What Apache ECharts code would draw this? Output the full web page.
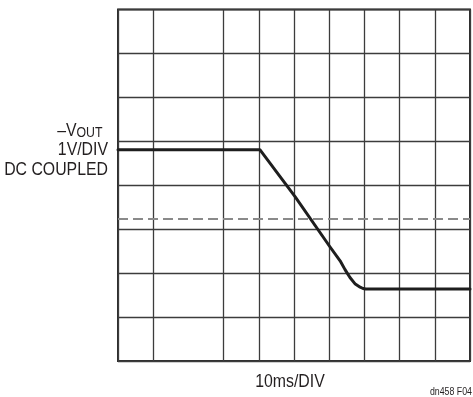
<!DOCTYPE html>
<html>
<head>
<meta charset="utf-8">
<script src="https://cdn.jsdelivr.net/npm/echarts@6/dist/echarts.min.js"></script>
<style>
  html, body { margin: 0; padding: 0; background: #fff; }
  #chart { width: 473px; height: 397px; }
</style>
</head>
<body>
<div id="chart"></div>
<script>
// Scope trace: time in divisions (10ms/DIV), voltage in divisions (1V/DIV)
const traceTime = [0, 4.03, 5.03, 6.02, 6.31, 6.45, 6.59, 6.73, 6.88, 6.96, 7.04, 10];
const traceVolt = [4.81, 4.81, 3.74, 2.60, 2.28, 2.08, 1.90, 1.76, 1.68, 1.65, 1.64, 1.64];

// Dashed reference level (divisions)
const refLevel = 3.23;

// Graticule: 10 horizontal by 8 vertical divisions
const xDivisions = 10;
const yDivisions = 8;
// Vertical graticule lines that are drawn (index 2 is left open)
const xLineVisible = [true, true, false, true, true, true, true, true, true, true, true];

const FONT = '"Liberation Sans", Arial, sans-serif';
const INK = '#231f20';
const GRID = '#3c3c3c';
const NARROW = 0.88;   // horizontal squeeze for a condensed look

function label(text, x, y, size, align) {
  return {
    type: 'text', x: x, y: y, scaleX: NARROW, scaleY: 1,
    style: { text: text, font: size + 'px ' + FONT, fill: INK, textAlign: align, verticalAlign: 'middle' }
  };
}

const chart = echarts.init(document.getElementById('chart'), null, { renderer: 'canvas' });

chart.setOption({
  animation: false,
  backgroundColor: '#fff',
  grid: {
    left: 118, top: 9.5, width: 352, height: 351.5,
    show: true, borderColor: '#2e2e2e', borderWidth: 2, backgroundColor: 'transparent'
  },
  xAxis: {
    type: 'value', min: 0, max: xDivisions, interval: 1,
    axisLine: { show: false }, axisTick: { show: false }, axisLabel: { show: false },
    splitLine: {
      show: true,
      lineStyle: { width: 1.3, color: xLineVisible.map(v => v ? GRID : 'rgba(0,0,0,0)') }
    }
  },
  yAxis: {
    type: 'value', min: 0, max: yDivisions, interval: 1,
    axisLine: { show: false }, axisTick: { show: false }, axisLabel: { show: false },
    splitLine: { show: true, lineStyle: { width: 1.3, color: GRID } }
  },
  series: [
    {
      type: 'line',
      data: [[0, refLevel], [xDivisions, refLevel]],
      symbol: 'none',
      lineStyle: { color: '#8a8a8a', width: 2, type: [10, 5] },
      z: 3
    },
    {
      type: 'line',
      data: traceTime.map((t, i) => [t, traceVolt[i]]),
      symbol: 'none',
      smooth: false,
      lineStyle: { color: '#1e1e1e', width: 3, join: 'round', cap: 'round' },
      z: 4
    }
  ],
  graphic: [
    label('–V', 76.5, 131, 18, 'right'),
    label('OUT', 76.5, 133, 14, 'left'),
    label('1V/DIV', 108, 150.4, 18, 'right'),
    label('DC COUPLED', 108, 170.5, 18, 'right'),
    label('10ms/DIV', 290, 382.4, 18, 'center'),
    label('dn458 F04', 472, 392, 10, 'right')
  ]
});
</script>
</body>
</html>
